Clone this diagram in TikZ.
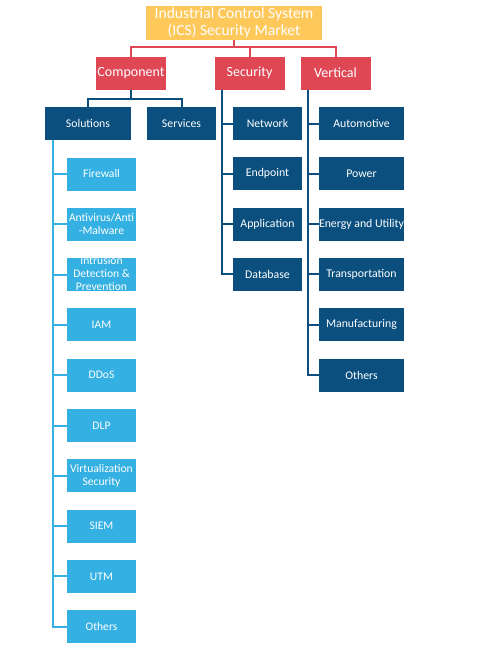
\documentclass[tikz,border=0pt]{standalone}
\usepackage{fontspec}
\setmainfont{Carlito}
\usepackage{tikz}
\usetikzlibrary{positioning}
\definecolor{gold}{HTML}{FFC85B}
\definecolor{rose}{HTML}{E04755}
\definecolor{navy}{HTML}{0A4F7E}
\definecolor{sky}{HTML}{34B0E2}

\begin{document}
\begin{tikzpicture}[x=1pt, y=-1pt,
  node distance=17.3pt and 16pt,
  box/.style={minimum height=33pt, inner xsep=0pt, inner ysep=1pt, outer sep=0pt, align=center, text=white},
  head/.style={box, fill=rose, minimum width=70pt, font=\fontsize{14}{16}\selectfont},
  dark/.style={box, fill=navy, minimum width=69pt, font=\fontsize{11.8}{13}\selectfont},
  light/.style={box, fill=sky, minimum width=69pt, font=\fontsize{11.6}{13}\selectfont},
  rl/.style={draw=rose, line width=2pt},
  nl/.style={draw=navy, line width=2pt},
  sl/.style={draw=sky, line width=2pt}
]
\useasboundingbox (0,0) rectangle (495,646);

% root and first level
\node[box, fill=gold, minimum width=176pt, minimum height=34pt, font=\fontsize{15.6}{16.5}\selectfont] (title) at (234,23) {Industrial Control System\\(ICS) Security Market};
\node[head] (comp) at (131,73) {Component};
\node[head] (sec) at (249.5,73) {Security};
\node[head] (vert) at (335.5,73) {Vertical};

% component
\node[dark, minimum width=86pt] (sol) at (88,123.5) {Solutions};
\node[dark] (serv) at (181.5,123.5) {Services};

% solutions
\node[light] (fw) at (101.5,174) {Firewall};
\node[light, below=of fw] (av) {Antivirus/Anti\\-Malware};
\node[light, below=of av] (ids) {\smash{\raisebox{-3pt}{\begin{tabular}{@{}c@{}}Intrusion\\Detection \&\\Prevention\end{tabular}}}};
\node[light, below=of ids] (iam) {IAM};
\node[light, below=of iam] (ddos) {DDoS};
\node[light, below=of ddos] (dlp) {DLP};
\node[light, below=of dlp] (virt) {Virtualization\\Security};
\node[light, below=of virt] (siem) {SIEM};
\node[light, below=of siem] (utm) {UTM};
\node[light, below=of utm] (soth) {Others};

% security
\node[dark] (net) at (267.5,123.5) {Network};
\node[dark, below=of net] (endp) {Endpoint};
\node[dark, below=of endp] (app) {Application};
\node[dark, below=of app] (db) {Database};

% vertical
\node[dark, minimum width=85pt] (auto) at (361.5,123.5) {Automotive};
\node[dark, minimum width=85pt, below=of auto] (pow) {Power};
\node[dark, minimum width=85pt, below=of pow] (enu) {Energy and Utility};
\node[dark, minimum width=85pt, below=of enu] (trans) {Transportation};
\node[dark, minimum width=85pt, below=of trans] (manu) {Manufacturing};
\node[dark, minimum width=85pt, below=of manu] (voth) {Others};

% connectors
\coordinate[below=7pt of title.south] (tj);
\draw[rl] (title.south) -- (tj) -| (comp.north);
\draw[rl] (tj) -| (sec.north);
\draw[rl] (tj) -| (vert.north);

\coordinate[below=9pt of comp.south] (cj);
\draw[nl] (comp.south) -- (cj) -| (sol.north);
\draw[nl] (cj) -| (serv.north);

\coordinate (sb) at ([xshift=7pt]sec.south west);
\foreach \n in {net,endp,app,db}
  \draw[nl] (sb) |- (\n.west);

\coordinate (vb) at ([xshift=7pt]vert.south west);
\foreach \n in {auto,pow,enu,trans,manu,voth}
  \draw[nl] (vb) |- (\n.west);

\coordinate (lb) at ([xshift=8pt]sol.south west);
\foreach \n in {fw,av,ids,iam,ddos,dlp,virt,siem,utm,soth}
  \draw[sl] (lb) |- (\n.west);
\end{tikzpicture}
\end{document}
